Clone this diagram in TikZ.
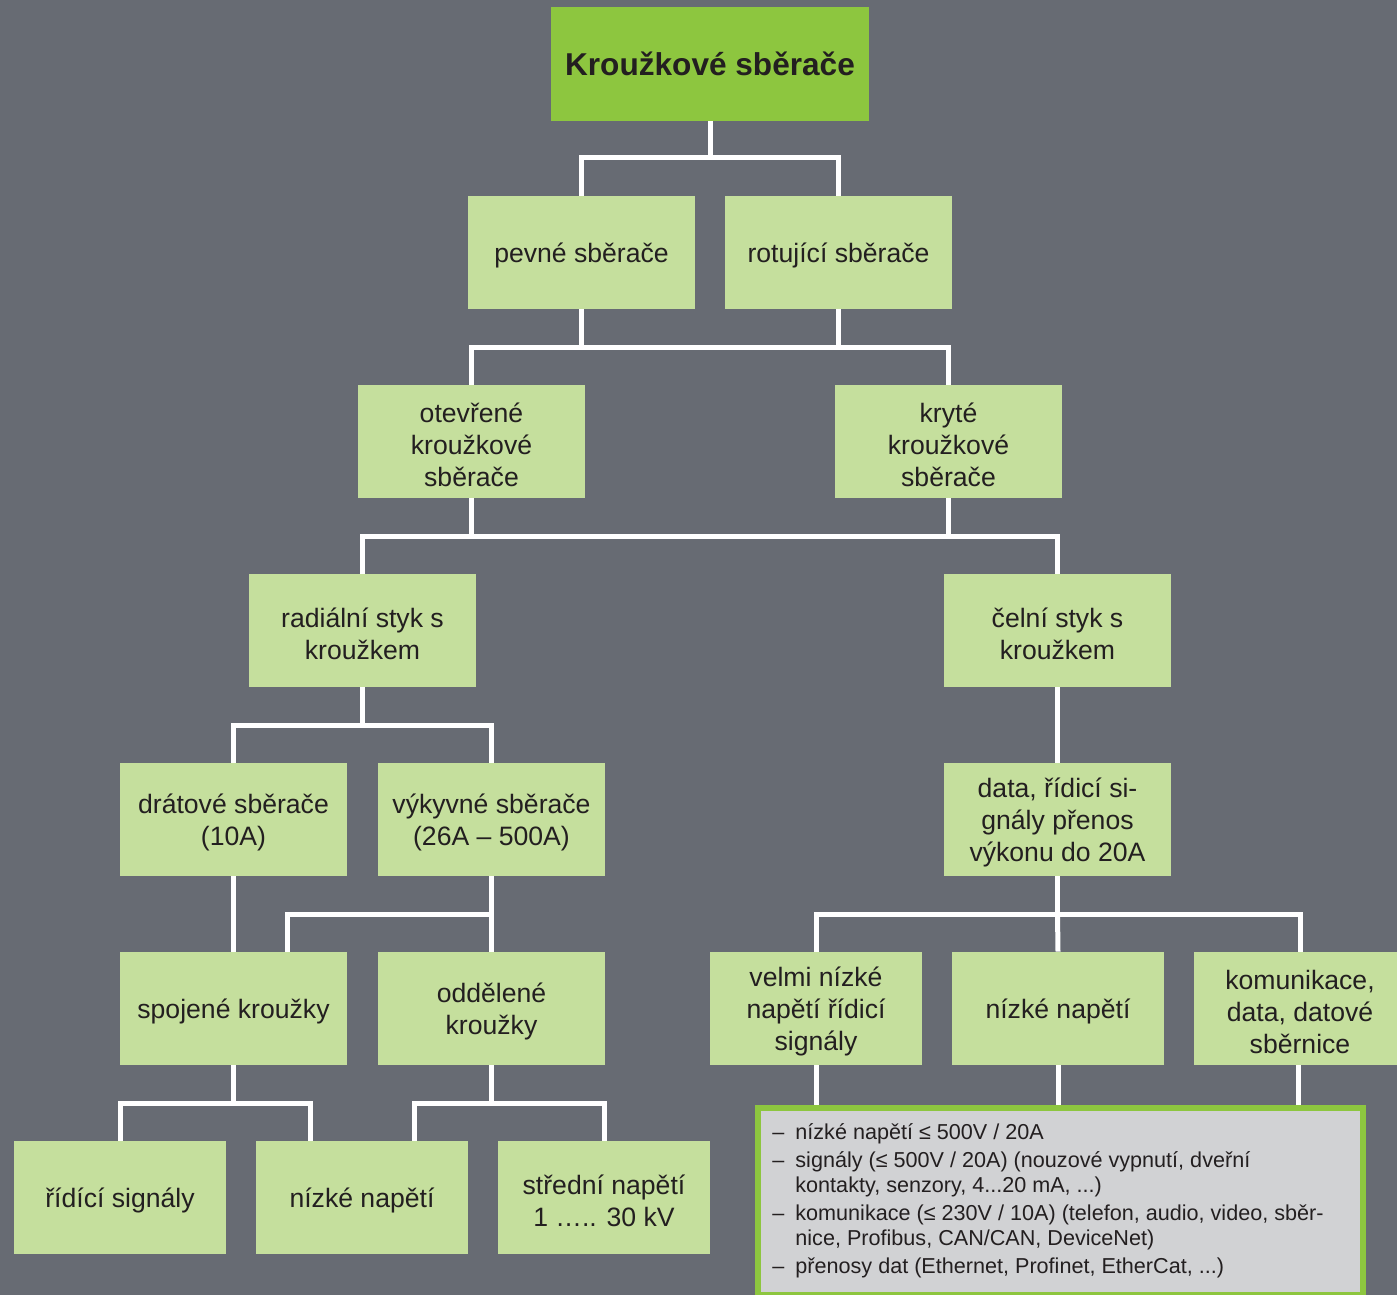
\documentclass[tikz,border=0pt]{standalone}
\usepackage{fontspec}
\setmainfont{Liberation Sans}
\usetikzlibrary{calc}
\definecolor{bgc}{HTML}{676B73}
\definecolor{lgreen}{HTML}{C5DF9D}
\definecolor{dgreen}{HTML}{8DC63F}
\definecolor{boxgray}{HTML}{D1D2D4}
\definecolor{txt}{HTML}{231F20}
\newcommand\bx[5][box]{%
  \node[#1] (#2) at (#3,#4) {};
  \node[boxtext] (#2-t) at ($(#2)+(0,3)$) {#5};}
\begin{document}
\begin{tikzpicture}[x=0.5pt,y=-0.5pt,
  box/.style={fill=lgreen,draw=none,inner sep=0pt,
    minimum width=113.5pt,minimum height=56.5pt},
  sbox/.style={box,minimum width=106pt},
  boxtext/.style={text=txt,align=center,inner sep=0pt,
    font=\fontsize{13.3}{16}\selectfont},
  topbox/.style={fill=dgreen,draw=none,text=txt,align=center,inner sep=0pt,
    minimum width=159pt,minimum height=57pt,
    font=\fontsize{15.8}{19}\selectfont\bfseries},
  conn/.style={draw=white,line width=2.5pt,line join=miter,line cap=butt}]
\useasboundingbox (0,0) rectangle (1397,1295);
\fill[bgc] (0,0) rectangle (1397,1295);

% nodes
\node[topbox] (top) at (710,64) {Kroužkové sběrače};
\bx{pev}{581.5}{252.5}{pevné sběrače}
\bx{rot}{838.5}{252.5}{rotující sběrače}
\bx{ote}{471.5}{441.5}{otevřené\\kroužkové\\sběrače}
\bx{kry}{948.5}{441.5}{kryté\\kroužkové\\sběrače}
\bx{rad}{362.5}{630.5}{radiální styk s\\kroužkem}
\bx{cel}{1057.5}{630.5}{čelní styk s\\kroužkem}
\bx{dra}{233.5}{819.5}{drátové sběrače\\(10A)}
\bx{vyk}{491.5}{819.5}{výkyvné sběrače\\(26A – 500A)}
\bx{dat}{1057.5}{819.5}{data, řídicí si-\\gnály přenos\\výkonu do 20A}
\bx{spo}{233.5}{1008.5}{spojené kroužky}
\bx{odd}{491.5}{1008.5}{oddělené\\kroužky}
\bx[sbox]{vel}{816}{1008.5}{velmi nízké\\napětí řídicí\\signály}
\bx[sbox]{niz}{1058}{1008.5}{nízké napětí}
\bx[sbox]{kom}{1300}{1008.5}{komunikace,\\data, datové\\sběrnice}
\bx[sbox]{rid}{120}{1197.5}{řídící signály}
\bx[sbox]{nn}{362}{1197.5}{nízké napětí}
\bx[sbox]{str}{604}{1197.5}{střední napětí\\1 ….. 30 kV}

% info box
\node[draw=dgreen,line width=3pt,fill=boxgray,inner sep=0pt,
  minimum width=302.5pt,minimum height=93.5pt,anchor=north west] (info) at (755,1105) {};
\node[anchor=north west,inner sep=0pt,text=txt,align=left,
  font=\fontsize{10.8}{12.5}\selectfont] (infotext) at (772,1122)
  {\begin{tabular}{@{}l@{\hspace{5.5pt}}l@{}}
  – & nízké napětí ≤ 500V / 20A\\[1.5pt]
  – & signály (≤ 500V / 20A) (nouzové vypnutí, dveřní\\
    & kontakty, senzory, 4...20 mA, ...)\\[1.5pt]
  – & komunikace (≤ 230V / 10A) (telefon, audio, video, sběr-\\
    & nice, Profibus, CAN/CAN, DeviceNet)\\[1.5pt]
  – & přenosy dat (Ethernet, Profinet, EtherCat, ...)
  \end{tabular}};

% connectors
\draw[conn] (top.south) -- ++(0,36) coordinate (j1);
\draw[conn] (pev.north) |- (j1) -| (rot.north);
\draw[conn] (pev.south) -- ++(0,38) coordinate (j2);
\draw[conn] (rot.south) -- (rot.south|-j2);
\draw[conn] (ote.north) |- (j2) -| (kry.north);
\draw[conn] (ote.south) -- ++(0,38) coordinate (j3);
\draw[conn] (kry.south) -- (kry.south|-j3);
\draw[conn] (rad.north) |- (j3) -| (cel.north);
\draw[conn] (rad.south) -- ++(0,38) coordinate (j4);
\draw[conn] (dra.north) |- (j4) -| (vyk.north);
\draw[conn] (cel.south) -- (dat.north);
\draw[conn] (dra.south) -- (spo.north);
\draw[conn] (vyk.south) -- ++(0,38) coordinate (j5);
\draw[conn] ($(spo.north)+(53.5,0)$) |- (j5) -- (odd.north);
\draw[conn] (dat.south) -- ++(0,38) coordinate (j6);
\draw[conn] (vel.north) |- (j6) -| (kom.north);
\draw[conn] (j6) -- (niz.north);
\draw[conn] (spo.south) -- ++(0,38) coordinate (j7);
\draw[conn] (rid.north) |- (j7) -| ($(nn.north)+(-52,0)$);
\draw[conn] (odd.south) -- ++(0,38) coordinate (j8);
\draw[conn] ($(nn.north)+(52,0)$) |- (j8) -| (str.north);
\draw[conn] (vel.south) -- (vel.south|-info.north);
\draw[conn] (niz.south) -- (niz.south|-info.north);
\draw[conn] ($(kom.south)+(-2,0)$) -- ($(kom.south|-info.north)+(-2,0)$);
\end{tikzpicture}
\end{document}
